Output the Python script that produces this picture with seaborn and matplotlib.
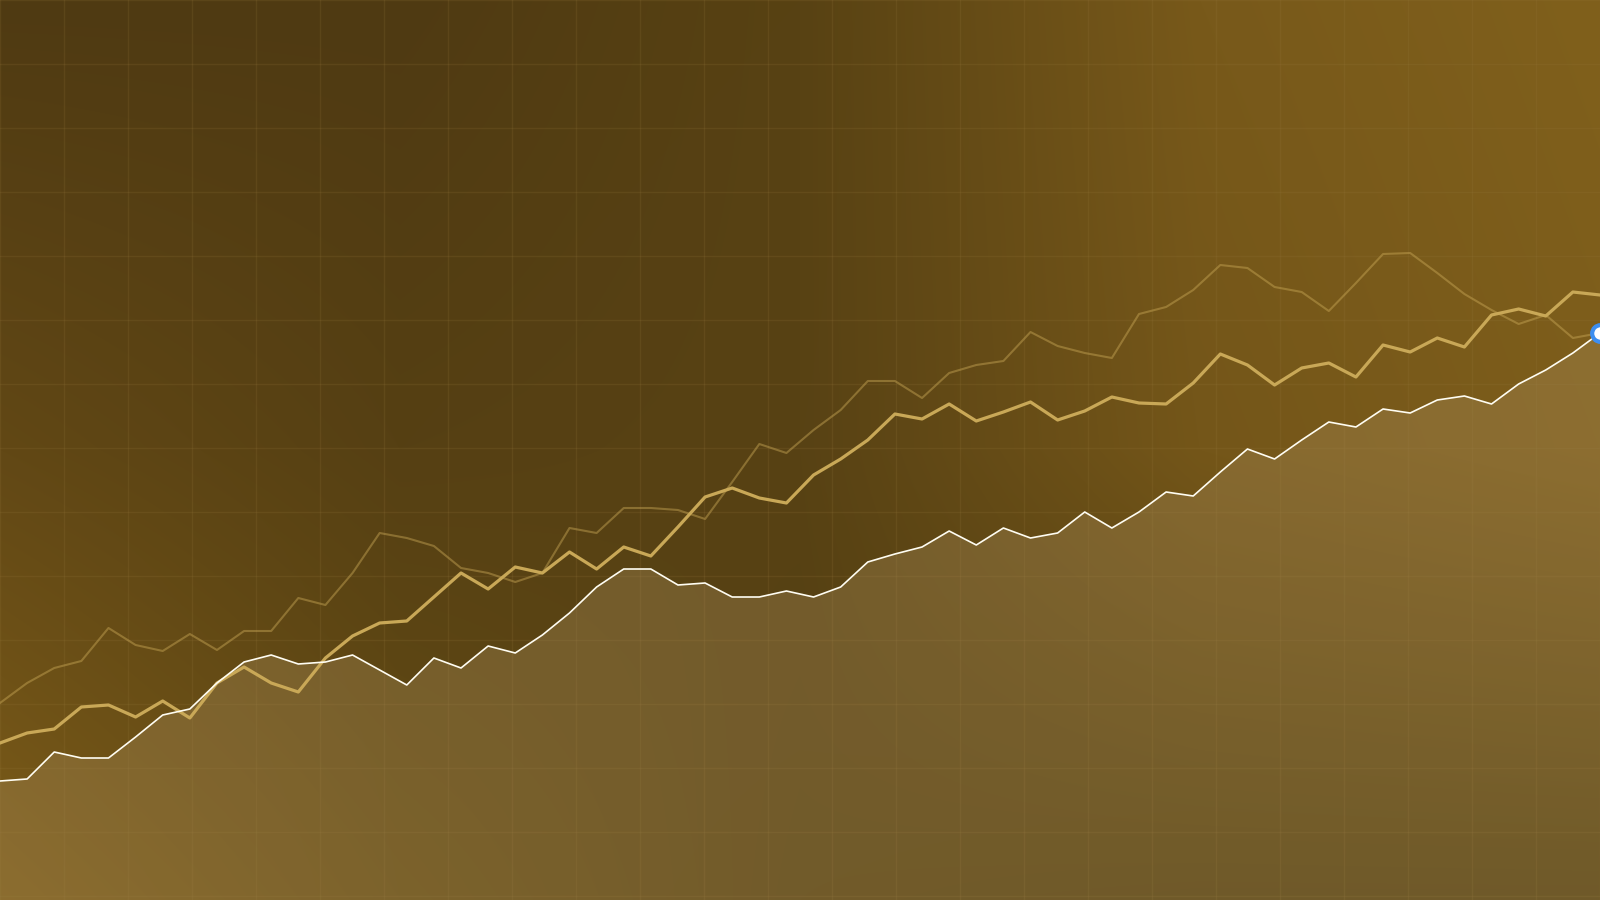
import matplotlib
matplotlib.use("Agg")
import matplotlib.pyplot as plt
import numpy as np
import pandas as pd
import seaborn as sns

# index levels, 60 periods
periods = list(range(60))

main_series = [119, 121, 148, 142, 142, 163, 185, 191, 217, 238,
               245, 236, 238, 245, 230, 215, 242, 232, 254, 247,
               265, 287, 313, 331, 331, 315, 317, 303, 303, 309,
               303, 313, 338, 346, 353, 369, 355, 372, 362, 367,
               388, 372, 388, 408, 404, 428, 451, 441, 460, 478,
               473, 491, 487, 500, 504, 496, 516, 530, 547, 567]

gold_series = [157, 167, 171, 193, 195, 183, 199, 182, 217, 233,
               217, 208, 242, 264, 277, 279, 303, 327, 311, 333,
               327, 348, 331, 353, 344, 373, 403, 412, 402, 397,
               425, 441, 460, 486, 481, 496, 479, 488, 498, 480,
               489, 503, 497, 496, 517, 546, 535, 515, 532, 537,
               523, 555, 548, 562, 553, 585, 591, 584, 608, 605]

faint_series = [197, 217, 232, 239, 272, 255, 249, 266, 250, 269,
                269, 302, 295, 327, 367, 362, 354, 332, 327, 318,
                327, 372, 367, 392, 392, 390, 381, 418, 456, 447,
                470, 490, 519, 519, 502, 527, 535, 539, 568, 554,
                547, 542, 586, 593, 610, 635, 632, 613, 608, 589,
                617, 646, 647, 627, 606, 590, 576, 585, 562, 567]

df = pd.DataFrame({"period": periods, "main": main_series,
                   "gold": gold_series, "faint": faint_series})

W, H = 1600, 900
fig = plt.figure(figsize=(16, 9), dpi=100)

# background colour field (rows top/middle/bottom, columns left->right)
bg_x = [0, 400, 800, 1200, 1600]
bg_y = [0, 450, 900]
bg_rgb = np.array([
    [(79, 58, 18), (79, 58, 18), (88, 66, 19), (120, 89, 26), (128, 96, 28)],
    [(98, 72, 21), (86, 64, 19), (88, 66, 20), (116, 86, 25), (125, 93, 27)],
    [(124, 92, 25), (100, 76, 20), (84, 64, 17), (80, 62, 15), (80, 62, 15)],
]) / 255

xg = np.arange(W) + 0.5
yg = np.arange(H) + 0.5
rows = np.stack([np.stack([np.interp(xg, bg_x, bg_rgb[r, :, c]) for c in range(3)], -1)
                 for r in range(3)])
ry = np.interp(yg, bg_y, [0, 1, 2])
i0 = np.clip(np.floor(ry).astype(int), 0, 1)
f = (ry - i0)[:, None, None]
img = rows[i0] * (1 - f) + rows[i0 + 1] * f

bg = fig.add_axes([0, 0, 1, 1])
bg.imshow(img, extent=(0, W, H, 0), aspect="auto", interpolation="bilinear")
bg.set_xlim(0, W)
bg.set_ylim(H, 0)
bg.set_xticks(np.arange(0, W + 1, 64))
bg.set_yticks(np.arange(0, H + 1, 64))
bg.grid(True, color=(150 / 255, 120 / 255, 60 / 255), alpha=0.18, linewidth=1)
bg.tick_params(length=0, labelbottom=False, labelleft=False)
for s in bg.spines.values():
    s.set_visible(False)

# chart
ax = fig.add_axes([0, 0, 1, 1])
ax.patch.set_alpha(0)
ax.fill_between(df["period"], df["main"], 0, color="#aa8e5a", alpha=0.35,
                linewidth=0, zorder=1)
sns.lineplot(data=df, x="period", y="faint", ax=ax, color="#c9a857",
             alpha=0.45, linewidth=1.5, zorder=2)
sns.lineplot(data=df, x="period", y="gold", ax=ax, color="#c9a857",
             linewidth=2.3, zorder=3)
sns.lineplot(data=df, x="period", y="main", ax=ax, color="#fffdf2",
             linewidth=1.2, zorder=4)
ax.plot(df["period"].iloc[-1], df["main"].iloc[-1], marker="o",
        markersize=12, markerfacecolor="white", markeredgecolor="#3d8ef0",
        markeredgewidth=3, zorder=5)
ax.set_xlim(0, 59)
ax.set_ylim(0, 900)
ax.axis("off")

fig.savefig("out.png", dpi=100)
